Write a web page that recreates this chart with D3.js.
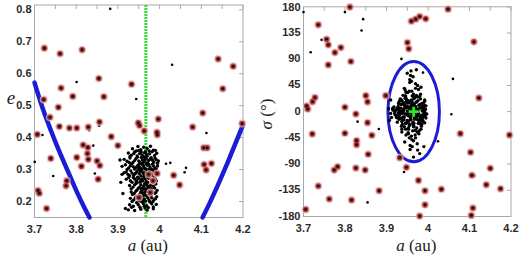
<!DOCTYPE html>
<html><head><meta charset="utf-8">
<script src="https://cdn.jsdelivr.net/npm/d3@7"></script>
<style>body{margin:0;background:#fff}svg{display:block}</style>
</head><body>
<svg id="c" width="520" height="256"></svg>
<script>
// ---------- data ----------
const xTicks = [3.7, 3.8, 3.9, 4.0, 4.1, 4.2];
const xTickLabels = ["3.7", "3.8", "3.9", "4", "4.1", "4.2"];
const eTicks = [0.2, 0.3, 0.4, 0.5, 0.6, 0.7, 0.8];
const eTickLabels = ["0.2", "0.3", "0.4", "0.5", "0.6", "0.7", "0.8"];
const sTicks = [-180, -135, -90, -45, 0, 45, 90, 135, 180];
const sTickLabels = ["-180", "-135", "-90", "-45", "0", "45", "90", "135", "180"];

// nominal resonance centre and libration ellipse
const resonanceA = 3.967;
const nominal = [3.9655, 0];
const ellipseHalf = [0.062, 86];

// boundary curves (a, e)
const leftCurve = [[3.70,0.572],[3.72,0.49],[3.74,0.42],[3.76,0.355],[3.78,0.295],[3.80,0.235],[3.82,0.18],[3.832,0.15]];
const rightCurve = [[4.103,0.15],[4.12,0.195],[4.14,0.252],[4.16,0.312],[4.18,0.376],[4.2,0.44]];

// clones: [a, e, sigma]
const clones = [
[3.935,0.365,12],[3.948,0.372,-20],[3.955,0.362,35],[3.962,0.37,-5],[3.97,0.366,48],[3.978,0.373,-38],[3.985,0.361,8],[3.944,0.358,-52],[3.966,0.356,22],
[3.925,0.352,5],[3.932,0.345,-12],[3.94,0.355,28],[3.946,0.343,-30],[3.952,0.35,15],[3.958,0.346,-8],[3.964,0.353,60],[3.97,0.342,-45],[3.976,0.349,2],[3.982,0.356,30],[3.988,0.344,-18],[3.993,0.351,10],[3.929,0.341,-2],[3.961,0.341,18],
[3.915,0.332,3],[3.922,0.326,-6],[3.929,0.336,14],[3.936,0.322,-25],[3.943,0.334,40],[3.95,0.327,-15],[3.956,0.338,5],[3.962,0.324,-60],[3.968,0.333,25],[3.974,0.328,-35],[3.98,0.337,12],[3.986,0.323,-10],[3.992,0.331,20],[3.997,0.327,-4],[3.947,0.339,-40],[3.959,0.331,70],[3.971,0.321,0],[3.983,0.329,-22],
[3.91,0.31,-3],[3.918,0.315,8],[3.926,0.305,-18],[3.933,0.318,22],[3.94,0.302,-9],[3.947,0.312,33],[3.953,0.307,-28],[3.959,0.316,4],[3.965,0.303,-50],[3.971,0.313,16],[3.977,0.308,-20],[3.983,0.317,42],[3.989,0.304,-7],[3.995,0.311,10],[3.937,0.309,-35],[3.956,0.301,55],[3.968,0.319,-13],[3.98,0.301,26],[3.962,0.311,-2],
[3.915,0.29,6],[3.924,0.285,-10],[3.931,0.296,18],[3.938,0.282,-22],[3.945,0.293,37],[3.951,0.287,-5],[3.957,0.298,-65],[3.963,0.283,12],[3.969,0.291,-32],[3.975,0.297,45],[3.981,0.284,-15],[3.987,0.292,3],[3.993,0.286,-8],[3.948,0.299,20],[3.96,0.289,-42],[3.972,0.281,28],[3.984,0.299,-25],[3.934,0.289,0],
[3.92,0.27,-4],[3.93,0.265,15],[3.937,0.275,-30],[3.944,0.262,8],[3.95,0.272,-18],[3.956,0.267,50],[3.962,0.278,-3],[3.968,0.263,24],[3.974,0.273,-55],[3.98,0.268,6],[3.986,0.276,-12],[3.992,0.264,18],[3.953,0.261,-38],[3.965,0.271,30],[3.977,0.279,-20],[3.941,0.27,2],
[3.928,0.25,-8],[3.936,0.245,20],[3.943,0.256,-26],[3.949,0.242,10],[3.955,0.253,-45],[3.961,0.247,35],[3.967,0.258,-10],[3.973,0.243,5],[3.979,0.252,-33],[3.985,0.248,14],[3.991,0.255,-5],[3.958,0.241,62],[3.97,0.251,-1],[3.946,0.259,16],
[3.932,0.23,3],[3.939,0.225,-14],[3.946,0.236,27],[3.952,0.222,-36],[3.958,0.233,9],[3.964,0.227,-20],[3.97,0.238,40],[3.976,0.223,-6],[3.982,0.232,22],[3.988,0.226,-16],[3.994,0.235,4],[3.961,0.239,-48],[3.955,0.229,15],[3.973,0.229,-28],
[3.93,0.21,-2],[3.938,0.205,18],[3.945,0.216,-20],[3.951,0.202,33],[3.957,0.213,-9],[3.963,0.207,5],[3.969,0.218,-40],[3.975,0.203,25],[3.981,0.212,-13],[3.987,0.206,10],[3.993,0.215,-3],[3.96,0.219,52],[3.966,0.201,-25],[3.948,0.209,7],
[3.928,0.19,6],[3.937,0.185,-17],[3.945,0.196,23],[3.953,0.182,-30],[3.961,0.193,12],[3.969,0.187,-5],[3.977,0.198,38],[3.985,0.183,-22],[3.992,0.191,0],[3.957,0.199,-58],[3.973,0.181,17],
[3.925,0.174,-7],[3.94,0.172,14],[3.955,0.176,-24],[3.97,0.173,9],[3.985,0.177,-12],[3.918,0.178,2],
[3.907,0.26,-15],[3.905,0.33,5],[3.91,0.285,20],[3.912,0.225,-10],
[3.98,0.24,-72],[3.975,0.3,-66],[3.99,0.27,-60],[3.965,0.22,-78],[3.95,0.31,66],[3.972,0.26,72],
[3.938,0.35,-3],[3.95,0.36,9],[3.975,0.358,-14],[3.99,0.36,3],[3.956,0.355,-22],[3.968,0.349,6],
[3.927,0.322,-9],[3.94,0.328,-1],[3.953,0.323,19],[3.965,0.337,-26],[3.977,0.333,-3],[3.989,0.336,15],[3.995,0.32,-11],
[3.922,0.3,2],[3.93,0.312,-13],[3.944,0.307,11],[3.951,0.317,-18],[3.962,0.305,27],[3.974,0.316,-8],[3.986,0.31,1],[3.992,0.302,-19],
[3.92,0.292,-1],[3.928,0.281,9],[3.942,0.288,-14],[3.954,0.294,6],[3.966,0.286,-20],[3.978,0.29,11],[3.99,0.295,-3],
[3.926,0.275,4],[3.934,0.26,-11],[3.947,0.276,23],[3.959,0.264,-14],[3.971,0.277,2],[3.983,0.262,-30],[3.989,0.271,7],
[3.932,0.24,-5],[3.94,0.252,13],[3.952,0.245,-7],[3.964,0.255,-22],[3.976,0.246,19],[3.988,0.242,-9],
[3.935,0.222,6],[3.943,0.232,-9],[3.956,0.238,-2],[3.967,0.232,13],[3.979,0.22,-18],[3.991,0.228,2],
[3.934,0.2,-12],[3.942,0.212,4],[3.954,0.208,-16],[3.96,0.203,20],[3.972,0.211,1],[3.984,0.2,-6],[3.99,0.209,12],
[3.933,0.182,2],[3.949,0.19,-4],[3.965,0.18,26],[3.981,0.193,-9],[3.963,0.185,-33],
[3.958,0.32,-12],[3.962,0.29,15],[3.958,0.27,3],[3.966,0.24,-6],[3.96,0.225,8],[3.964,0.33,-18],[3.955,0.28,-1],[3.968,0.3,9],[3.97,0.285,-10],[3.95,0.3,1],[3.945,0.265,-4]
];

// background objects, left panel (a, e)
const redLeft = [
[3.7236,0.680],[3.7613,0.6625],[3.8142,0.675],[3.8543,0.585],[3.7637,0.555],[3.7918,0.529],[3.8663,0.528],[3.9327,0.567],[3.7221,0.519],[3.7572,0.495],[3.737,0.4635],[3.8558,0.449],[3.9488,0.446],[3.9519,0.438],[3.9969,0.458],[4.1034,0.477],[4.1404,0.646],[4.1764,0.623],[4.1515,0.553],[4.0793,0.433],[4.198,0.444],
[3.7596,0.435],[3.7837,0.430],[3.8014,0.430],[3.829,0.433],
[3.7067,0.410],[3.884,0.403],[3.8166,0.377],[3.828,0.369],[3.90,0.375],[3.827,0.35],[3.8014,0.338],[3.829,0.332],[3.739,0.335],[3.850,0.327],[3.8125,0.310],[3.8567,0.3125],[3.8526,0.27],[3.7774,0.2647],[3.7757,0.249],[3.7084,0.2344],[3.7115,0.226],[3.729,0.178],
[3.9632,0.421],[3.9937,0.4166],[3.9945,0.409],[4.1058,0.368],[4.1139,0.368],[4.1067,0.3156],[4.1243,0.319],[4.1115,0.299],[4.0337,0.282],[4.048,0.252],
[3.9736,0.285],[3.994,0.2875],[3.984,0.2647],[3.9505,0.2125],[3.9776,0.228]
];
const blackLeft = [
[3.8815,0.803],[3.801,0.574],[3.944,0.521],[4.03,0.628],[3.855,0.4375],[3.831,0.423],[3.719,0.408],[3.841,0.375],[3.7005,0.324],[3.745,0.280],[3.8447,0.2875],[4.1123,0.4146],[4.0257,0.321],[4.0634,0.3053],[4.06,0.2916],[4.0154,0.318]
];
// background objects, right panel (a, sigma)
const redRight = [
[3.8118,179.5],[3.7356,149],[3.7557,124.4],[3.7597,114.7],[3.790,110],[3.7757,101.4],[3.8142,86],[3.7597,80.3],[3.8502,27.5],[3.8543,16.7],[3.8983,27.5],[3.7276,24.1],[3.722,17.2],[3.7077,9.8],[3.7101,4.6],[3.7998,7.6],[3.8262,-4],[4.0483,176],[3.96,155.4],[3.9704,158.8],[3.980,163.3],[3.9945,159.4],[3.9505,118.6],[3.9536,107.8],[4.1106,119.8],[4.1226,23.5],
[3.8543,-18.9],[3.7212,-38.3],[3.7998,-37.1],[3.8279,-49.8],[3.8279,-56.7],[3.8647,-40.6],[3.8558,-73.2],[3.932,-79],[3.7822,-94.5],[3.774,-100.2],[3.8262,-96.8],[3.8486,-100.2],[3.7356,-127.7],[3.762,-150],[3.8159,-151.8],[3.8822,-135.8],[3.7053,-167.8],[3.948,-95.6],[3.977,-118],[3.9928,-135.8],[4.0322,-133.4],[3.9928,-160],[3.980,-179.3],[4.0779,-37.8],[4.1026,-69.8],[4.15,-97.3],[4.1058,-109.3],[4.1404,-125.5],[4.1748,-132.4],[4.1964,-40],[4.1082,-165.5],[4.1043,-178.1]
];
const blackRight = [
[3.70,170.9],[3.7998,170.9],[3.8438,158.8],[3.8399,139.2],[3.7437,123.3],[3.7173,102],[3.936,90.6],[4.0601,56.2],[4.0562,-4.5],[3.8303,-17.2],[3.8815,-29.7],[3.8543,-155.8],[3.9423,-103.7],[4.1123,-110],[4.024,-51],[3.988,67]
];

// ---------- drawing ----------
const svg = d3.select("#c");
const tickFont = "'Liberation Sans', Arial, sans-serif";
const labelFont = "'Liberation Serif', serif";

function panel(opt) {
  const g = svg.append("g");
  const x = opt.x, y = opt.y;
  const [x0, x1] = x.range(), [y0, y1] = y.range();
  g.append("rect").attr("x", x0).attr("y", y1).attr("width", x1 - x0).attr("height", y0 - y1)
    .attr("fill", "none").attr("stroke", "#a8a8a8").attr("stroke-width", 1);
  const topTicks = d3.range(3.75, 4.2, 0.05);
  g.selectAll(".tt").data(topTicks).join("line")
    .attr("x1", d => x(d)).attr("x2", d => x(d)).attr("y1", y1).attr("y2", y1 + 4)
    .attr("stroke", "#a8a8a8");
  g.selectAll(".rt").data(opt.yTicks).join("line")
    .attr("x1", x1).attr("x2", x1 - 4).attr("y1", d => y(d)).attr("y2", d => y(d))
    .attr("stroke", "#a8a8a8");
  g.selectAll(".xl").data(xTicks).join("text")
    .attr("x", d => x(d)).attr("y", y0 + 15).attr("text-anchor", "middle")
    .attr("font-family", tickFont).attr("font-size", 11).attr("font-weight", "bold").attr("fill", "#2a2a2a")
    .text((d, i) => xTickLabels[i]);
  g.selectAll(".yl").data(opt.yTicks).join("text")
    .attr("x", x0 - 3).attr("y", d => Math.max(y(d) + 3, 11)).attr("text-anchor", "end")
    .attr("font-family", tickFont).attr("font-size", 11).attr("font-weight", "bold").attr("fill", "#2a2a2a")
    .text((d, i) => opt.yTickLabels[i]);
  const xl = g.append("text").attr("x", (x0 + x1) / 2 + 9).attr("y", 251).attr("text-anchor", "middle")
    .attr("font-family", labelFont).attr("font-size", 17).attr("fill", "#222");
  xl.append("tspan").attr("font-style", "italic").text("a");
  xl.append("tspan").text(" (au)");
  return g;
}

function drawRed(g, pts) {
  const s = g.append("g");
  s.selectAll(".h").data(pts).join("circle").attr("cx", d => d[0]).attr("cy", d => d[1]).attr("r", 4)
    .attr("fill", "#e9b3b3").attr("opacity", 0.8);
  s.selectAll(".r").data(pts).join("circle").attr("cx", d => d[0]).attr("cy", d => d[1]).attr("r", 2.8)
    .attr("fill", "#b23a3a");
  s.selectAll(".c").data(pts).join("circle").attr("cx", d => d[0]).attr("cy", d => d[1]).attr("r", 1.4)
    .attr("fill", "#111");
}
function drawBlack(g, pts, r) {
  g.append("g").selectAll("circle").data(pts).join("circle")
    .attr("cx", d => d[0]).attr("cy", d => d[1]).attr("r", r).attr("fill", "#000");
}

// ---- left panel ----
const xL = d3.scaleLinear([3.7, 4.2], [34.5, 243]);
const yL = d3.scaleLinear([0.15, 0.815], [217.5, 5]);
const gL = panel({ x: xL, y: yL, yTicks: eTicks, yTickLabels: eTickLabels });
gL.append("text").attr("x", 11).attr("y", 104).attr("text-anchor", "middle")
  .attr("font-family", labelFont).attr("font-style", "italic").attr("font-size", 19).attr("fill", "#222").text("e");

const line = d3.line().x(d => xL(d[0])).y(d => yL(d[1])).curve(d3.curveMonotoneX);
[leftCurve, rightCurve].forEach(c => {
  gL.append("path").attr("d", line(c)).attr("fill", "none").attr("stroke", "#1c1cd6")
    .attr("stroke-width", 4.5).attr("stroke-linecap", "round");
});
gL.append("line").attr("x1", xL(resonanceA)).attr("x2", xL(resonanceA)).attr("y1", yL.range()[1]).attr("y2", yL.range()[0])
  .attr("stroke", "#35e035").attr("stroke-width", 3).attr("stroke-dasharray", "2,1");
drawBlack(gL, clones.map(d => [xL(d[0]), yL(d[1])]), 1.7);
drawBlack(gL, blackLeft.map(d => [xL(d[0]), yL(d[1])]), 1.3);
drawRed(gL, redLeft.map(d => [xL(d[0]), yL(d[1])]));

// ---- right panel ----
const xR = d3.scaleLinear([3.7, 4.2], [303.5, 511]);
const yR = d3.scaleLinear([-180, 180], [216.5, 6.8]);
const gR = panel({ x: xR, y: yR, yTicks: sTicks, yTickLabels: sTickLabels });
const yl = gR.append("text").attr("transform", "translate(272,114) rotate(-90)").attr("text-anchor", "middle")
  .attr("font-family", labelFont).attr("font-size", 17).attr("fill", "#222");
yl.append("tspan").attr("font-style", "italic").text("σ");
yl.append("tspan").text(" (°)");

gR.append("ellipse").attr("cx", xR(nominal[0])).attr("cy", yR(nominal[1]))
  .attr("rx", xR(nominal[0] + ellipseHalf[0]) - xR(nominal[0]))
  .attr("ry", yR(nominal[1]) - yR(nominal[1] + ellipseHalf[1]))
  .attr("fill", "none").attr("stroke", "#1c1cd6").attr("stroke-width", 3);
drawBlack(gR, clones.map(d => [xR(d[0]), yR(d[2])]), 1.7);
drawBlack(gR, blackRight.map(d => [xR(d[0]), yR(d[1])]), 1.3);
drawRed(gR, redRight.map(d => [xR(d[0]), yR(d[1])]));
const cx = xR(nominal[0]), cy = yR(nominal[1]);
gR.append("path").attr("d", `M${cx-5},${cy}H${cx+5}M${cx},${cy-5}V${cy+5}`)
  .attr("stroke", "#22ee22").attr("stroke-width", 2.8);
</script>
</body></html>
